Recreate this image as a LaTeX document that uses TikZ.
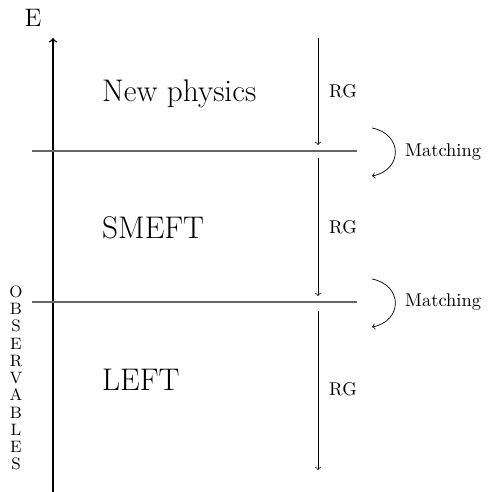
\documentclass[tikz,border=0pt]{standalone}
\usetikzlibrary{positioning}
\tikzset{
  scaleline/.style={draw=black!60, semithick},
  rgarrow/.style={->, thin},
  matcharrow/.style={->, thin},
  eftlabel/.style={font=\fontsize{17.8}{21}\selectfont, anchor=west},
  sidelabel/.style={font=\fontsize{10.5}{12}\selectfont}
}
\begin{document}
\begin{tikzpicture}[x=0.02cm, y=-0.02cm]
    % Frame
    \useasboundingbox (0,0) rectangle (487,492);

    % Energy axis
    \coordinate (axbot) at (53,492);
    \coordinate (axtop) at (53,38);
    \draw[->, thick] (axbot) -- (axtop);
    \node[font=\Large] (elabel) at (33,18) {E};

    % Thresholds
    \coordinate (th1a) at (32,151);
    \coordinate (th1b) at (357,151);
    \coordinate (th2a) at (32,302);
    \coordinate (th2b) at (357,302);
    \draw[scaleline] (th1a) -- (th1b);
    \draw[scaleline] (th2a) -- (th2b);

    % Theories
    \node[eftlabel] (np) at (96,94) {New physics};
    \node[eftlabel] (smeft) at (96,228) {SMEFT};
    \node[eftlabel] (left) at (96,380) {LEFT};

    % RG running
    \coordinate (rg1a) at (318,38);
    \coordinate (rg1b) at (318,145);
    \coordinate (rg2a) at (318,158);
    \coordinate (rg2b) at (318,296);
    \coordinate (rg3a) at (318,311);
    \coordinate (rg3b) at (318,470);
    \draw[rgarrow] (rg1a) -- (rg1b);
    \draw[rgarrow] (rg2a) -- (rg2b);
    \draw[rgarrow] (rg3a) -- (rg3b);
    \node[sidelabel] (rg1) at (343,91) {RG};
    \node[sidelabel] (rg2) at (343,227) {RG};
    \node[sidelabel] (rg3) at (343,389) {RG};

    % Matching
    \coordinate (m1a) at (372,128);
    \coordinate (m1b) at (372,176);
    \coordinate (m2a) at (372,279);
    \coordinate (m2b) at (372,327);
    \draw[matcharrow] (m1a) .. controls (403,134) and (403,170) .. (m1b);
    \draw[matcharrow] (m2a) .. controls (403,285) and (403,321) .. (m2b);
    \node[sidelabel, anchor=west] (match1) at (399,152) {Matching};
    \node[sidelabel, anchor=west] (match2) at (399,302) {Matching};

    % Observables
    \node[font=\fontsize{9.4}{9.8}\selectfont, align=center] (obs) at (16,378)
      {O\\B\\S\\E\\R\\V\\A\\B\\L\\E\\S};
\end{tikzpicture}
\end{document}
